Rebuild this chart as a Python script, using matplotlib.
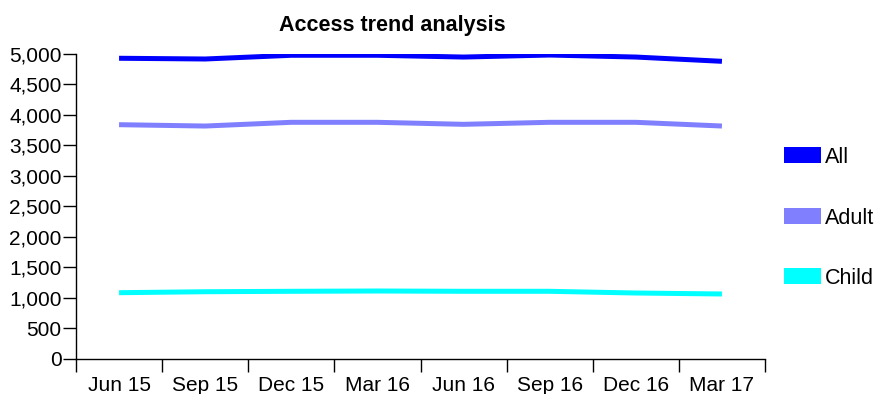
"""Access trend analysis: quarterly line chart with side legend."""

import matplotlib
matplotlib.use("Agg")
import matplotlib.pyplot as plt  # noqa: E402
from matplotlib.patches import Rectangle  # noqa: E402
from matplotlib.ticker import FuncFormatter  # noqa: E402

quarters = ["Jun 15", "Sep 15", "Dec 15", "Mar 16",
            "Jun 16", "Sep 16", "Dec 16", "Mar 17"]
series_names = ["All", "Adult", "Child"]
all_vals = [4930, 4918, 4979, 4979, 4950, 4983, 4950, 4880]
adult_vals = [3840, 3818, 3879, 3879, 3846, 3879, 3879, 3818]
child_vals = [1083, 1099, 1106, 1111, 1106, 1106, 1078, 1062]
colors = ["#0000ff", "#8080ff", "#00ffff"]

plt.rcParams["font.family"] = ["Liberation Sans", "DejaVu Sans"]

W, H = 876, 394
fig = plt.figure(figsize=(W / 100, H / 100), dpi=100)
ax = fig.add_axes([76 / W, 1 - 358.7 / H, (765 - 76) / W, (358.7 - 54) / H])

x = list(range(len(quarters)))
for vals, c in zip([all_vals, adult_vals, child_vals], colors):
    ax.plot(x, vals, color=c, lw=3.6, solid_capstyle="butt", solid_joinstyle="miter")

ax.set_xlim(-0.5, len(quarters) - 0.5)
ax.set_ylim(0, 5000)
ax.set_yticks(range(0, 5001, 500))
ax.yaxis.set_major_formatter(FuncFormatter(lambda v, _: f"{int(v):,}"))
ax.set_xticks(x)
ax.set_xticklabels(quarters)
ax.set_xticks([i - 0.5 for i in range(len(quarters) + 1)], minor=True)
ax.tick_params(axis="x", which="major", length=0, pad=12.5, labelsize=15)
ax.tick_params(axis="x", which="minor", length=9.4, width=1, direction="out")
ax.tick_params(axis="y", length=9.4, width=1, pad=1, labelsize=15)
for s in ("top", "right"):
    ax.spines[s].set_visible(False)
for s in ("left", "bottom"):
    ax.spines[s].set_linewidth(1)

fig.text(392 / W, 1 - 30.7 / H, "Access trend analysis", ha="center", va="baseline",
         fontsize=15.5, fontweight="bold")

# legend: swatch + label, drawn in figure pixels
for name, c, yc, base in zip(series_names, colors, [155, 216, 276], [163, 224, 284]):
    fig.patches.append(Rectangle((784 / W, 1 - (yc + 8) / H), 37 / W, 16 / H,
                                 facecolor=c, edgecolor="none",
                                 transform=fig.transFigure))
    fig.text(825 / W, 1 - base / H, name, ha="left", va="baseline", fontsize=15.5)

fig.savefig("out.png", dpi=100)
